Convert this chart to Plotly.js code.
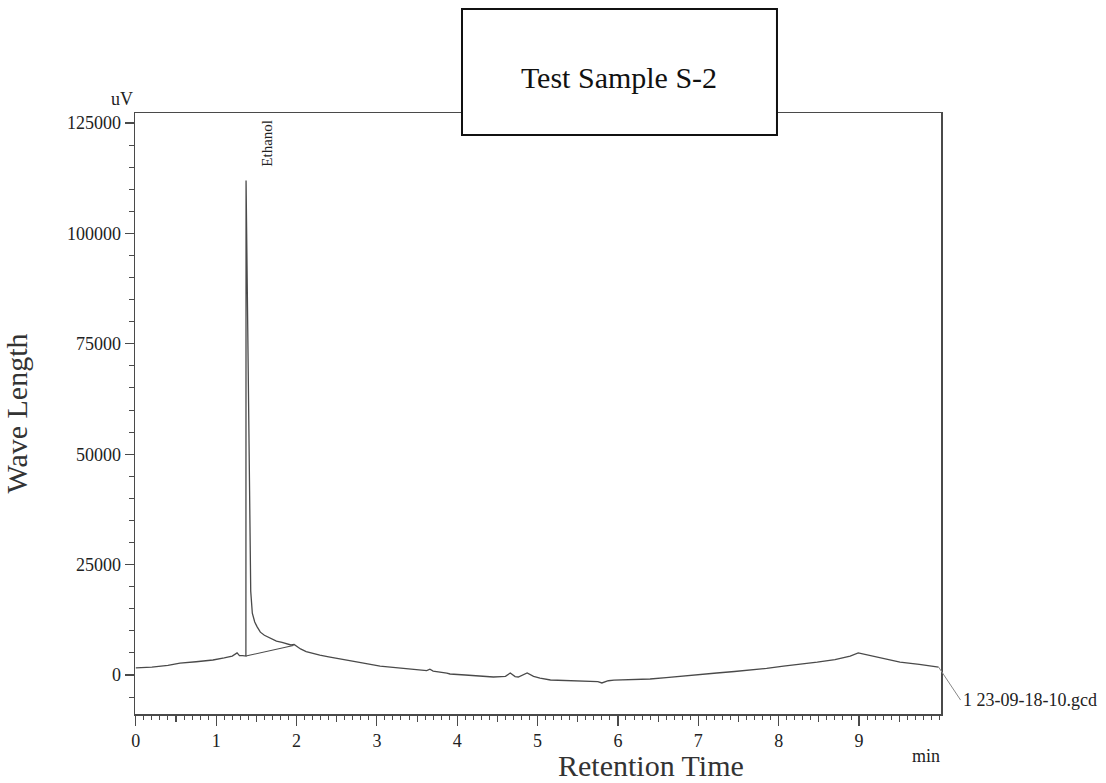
<!DOCTYPE html>
<html>
<head>
<meta charset="utf-8">
<script src="https://cdn.plot.ly/plotly-3.0.1.min.js"></script>
<style>html,body{margin:0;padding:0;background:#fff;}#chart{width:1106px;height:783px;}</style>
</head>
<body>
<div id="chart"></div>
<script>
// Retention time (min) and detector signal (uV)
var timeMin = [0, 0.2, 0.4, 0.55, 0.75, 0.96, 1.1, 1.2, 1.26, 1.29, 1.33, 1.37,
  1.372, 1.385, 1.40, 1.415, 1.43, 1.45, 1.48, 1.51, 1.55, 1.6, 1.67, 1.75, 1.82, 1.88, 1.93, 1.97, 2.0, 2.05, 2.12, 2.2, 2.29, 2.4, 2.54, 2.63, 2.8, 3.04, 3.2, 3.45, 3.62, 3.66, 3.7, 3.87, 3.91,
  4.1, 4.28, 4.45, 4.55, 4.6, 4.66, 4.72, 4.76, 4.82, 4.87, 4.95, 5.03, 5.16, 5.4, 5.65, 5.75, 5.8, 5.88, 5.95, 6.2, 6.4, 6.6, 6.81, 7.0, 7.23, 7.45, 7.65, 7.85, 8.06, 8.27, 8.48, 8.7, 8.89, 8.99, 9.2, 9.51, 9.75, 9.99];
var signalUV = [1600, 1800, 2200, 2700, 3000, 3400, 3900, 4300, 5000, 4400, 4400, 4300,
  112000, 90000, 60000, 35000, 19000, 14000, 12000, 10900, 9700, 9000, 8400, 7700, 7400, 7100, 6800, 6900, 6500, 5900, 5300, 4900, 4500, 4100, 3700, 3400, 2800, 2000, 1700, 1300, 1000, 1300, 900, 450, 230,
  0, -200, -450, -350, -300, 450, -350, -450, 100, 450, -300, -700, -1130, -1250, -1360, -1500, -1800, -1300, -1150, -1050, -900, -600, -200, 100, 450, 800, 1130, 1500, 2000, 2400, 2900, 3500, 4300, 5000, 4200, 2900, 2400, 1800];
// Integration baseline under the ethanol peak
var baseTime = [1.37, 1.96];
var baseUV = [4300, 6700];
// Axis ticks
var xTicks = [0, 1, 2, 3, 4, 5, 6, 7, 8, 9];
var xHalfTicks = [0.5, 1.5, 2.5, 3.5, 4.5, 5.5, 6.5, 7.5, 8.5, 9.5];
var yTicks = [0, 25000, 50000, 75000, 100000, 125000];
var peakName = "Ethanol";
var fileName = "1 23-09-18-10.gcd";

var serif = "Liberation Serif, Times New Roman, serif";
var lineCol = "#4a4a4a";

var traces = [
  {x: timeMin, y: signalUV, type: "scatter", mode: "lines", line: {color: lineCol, width: 1.3}, hoverinfo: "skip"},
  {x: baseTime, y: baseUV, type: "scatter", mode: "lines", line: {color: lineCol, width: 1.1}, hoverinfo: "skip"},
  {x: [xTicks[0]], y: [null], xaxis: "x2", type: "scatter", mode: "lines", hoverinfo: "skip"}
];

var lastI = timeMin.length - 1;
var layout = {
  width: 1106, height: 783,
  paper_bgcolor: "#fff", plot_bgcolor: "#fff",
  showlegend: false,
  margin: {l: 135, r: 165, t: 113, b: 69},
  font: {family: serif, color: "#222"},
  title: {text: "Test Sample S-2", font: {family: serif, size: 30, color: "#111"},
    xref: "paper", x: 0.6005, xanchor: "center", yref: "container", y: 1 - 77/783, yanchor: "middle"},
  xaxis: {
    range: [-0.01, 10.02], tickvals: xTicks, ticks: "outside", ticklen: 10, tickwidth: 1.2, tickcolor: lineCol,
    showline: true, linecolor: lineCol, linewidth: 1.5, mirror: true, showgrid: false, zeroline: false,
    tickfont: {family: serif, size: 18, color: "#222"},
    minor: {dtick: 0.1, tick0: 0, ticks: "outside", ticklen: 4, tickwidth: 1, tickcolor: lineCol, showgrid: false}
  },
  xaxis2: {
    overlaying: "x", matches: "x", anchor: "y", side: "bottom", tickvals: xHalfTicks, ticks: "outside", ticklen: 7, tickwidth: 1.1, tickcolor: lineCol,
    showticklabels: false, showline: false, showgrid: false, zeroline: false
  },
  yaxis: {
    range: [-8830, 127270], tickvals: yTicks, tickformat: "d", ticks: "outside", ticklen: 9, tickwidth: 1.2, tickcolor: lineCol,
    showline: true, linecolor: lineCol, linewidth: 1.5, mirror: true, showgrid: false, zeroline: false,
    tickfont: {family: serif, size: 18, color: "#222"},
    minor: {dtick: 5000, tick0: 0, ticks: "outside", ticklen: 5, tickwidth: 1, tickcolor: lineCol, showgrid: false},
    title: {text: "Wave Length", font: {family: serif, size: 30, color: "#333"}, standoff: 30}
  },
  shapes: [
    {type: "rect", xref: "paper", yref: "paper", x0: 0.4057, x1: 0.7965, y0: 0.9634, y1: 1.1730,
      line: {color: "#111", width: 2}, fillcolor: "#fff", layer: "above"}
  ],
  annotations: [
    {text: "Retention Time", xref: "paper", yref: "paper", x: 0.640, y: -0.0865, showarrow: false,
      xanchor: "center", yanchor: "middle", font: {family: serif, size: 30, color: "#333"}},
    {text: "uV", xref: "paper", yref: "paper", x: -0.0161, y: 1.0233, showarrow: false,
      xanchor: "center", yanchor: "middle", font: {family: serif, size: 18, color: "#222"}},
    {text: "min", xref: "paper", yref: "paper", x: 0.9814, y: -0.0699, showarrow: false,
      xanchor: "center", yanchor: "middle", font: {family: serif, size: 18, color: "#222"}},
    {text: peakName, xref: "x", yref: "y", x: 1.63, y: 120500, showarrow: false, textangle: -90,
      xanchor: "center", yanchor: "middle", font: {family: serif, size: 15, color: "#222"}},
    {text: fileName, xref: "x", yref: "y", x: timeMin[lastI], y: signalUV[lastI], showarrow: true,
      arrowhead: 0, arrowwidth: 1, arrowcolor: "#888", ax: 22, ay: 33, xanchor: "left", yanchor: "middle",
      font: {family: serif, size: 18, color: "#222"}}
  ]
};

Plotly.newPlot("chart", traces, layout, {staticPlot: true, displayModeBar: false});
</script>
</body>
</html>
